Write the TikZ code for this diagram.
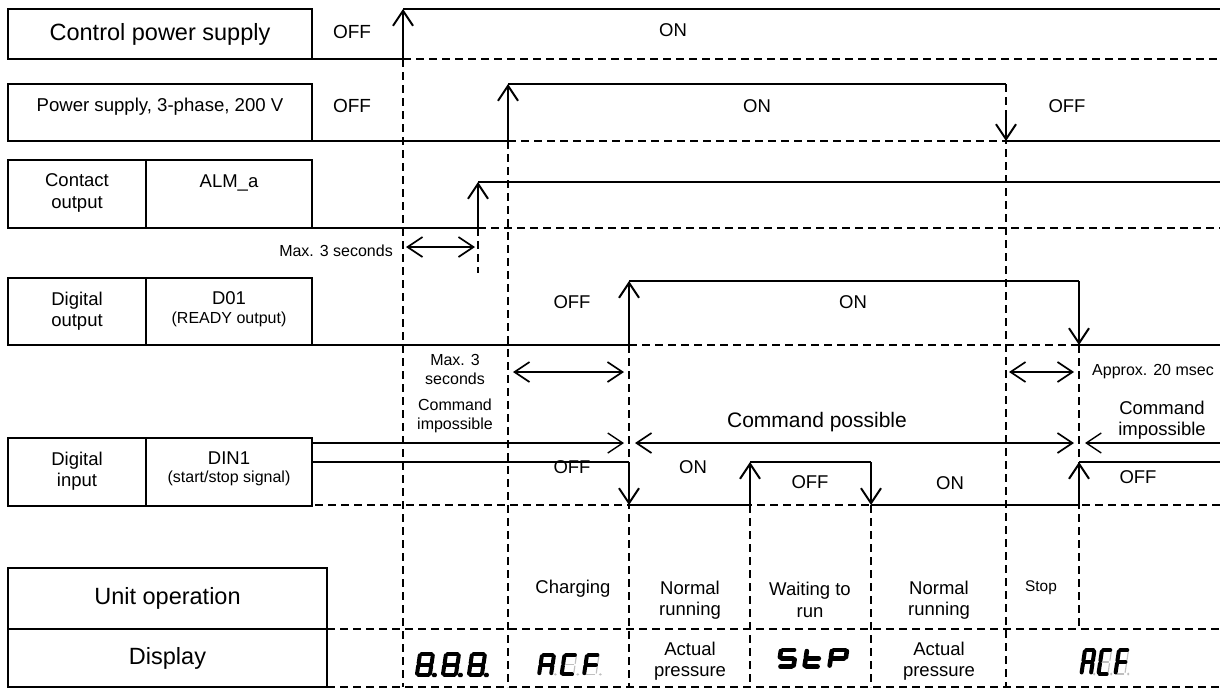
\documentclass[tikz,border=0pt]{standalone}
\usepackage{fontspec}
\setmainfont{Liberation Sans}
\usetikzlibrary{arrows.meta}
\newcommand\fA{\fontsize{23.5}{27}\selectfont}
\newcommand\fB{\fontsize{18.5}{21.5}\selectfont}
\newcommand\fC{\fontsize{16}{19}\selectfont}
\newcommand\fD{\fontsize{21}{24}\selectfont}
\newcommand\fS{\fontsize{15.4}{18}\selectfont}
\newcommand\sevseg[7]{%
  \begin{scope}[shift={(#1,#2)}, xslant=0.15, xscale=#3, yscale=#4]
    \foreach \s in {#6} {\draw[ghostseg, seg\s];}
    \foreach \s in {#5} {\draw[line width=#7pt, line cap=round, line join=round, seg\s];}
  \end{scope}}
\begin{document}
\begin{tikzpicture}[x=1pt,y=-1pt,
  box/.style={draw, line width=2.5pt, inner sep=0pt, align=center},
  sig/.style={line width=2.6pt},
  arr/.style={line width=2pt, -{Straight Barb[length=15pt,width=20pt]}},
  darr/.style={line width=1.7pt, {Straight Barb[length=15pt,width=20pt]}-{Straight Barb[length=15pt,width=20pt]}},
  harr/.style={line width=1.4pt, -{Straight Barb[length=15pt,width=20pt]}},
  dsh/.style={line width=1.7pt, dash pattern=on 8pt off 5pt},
  lbl/.style={inner sep=0pt, align=center, font=\fB},
  ghostseg/.style={line width=1.1pt, draw=black!25, line cap=round},
  sega/.style={insert path={(1.3,0)--(8.7,0)}},
  segb/.style={insert path={(10,1.3)--(10,8.7)}},
  segc/.style={insert path={(10,11.3)--(10,18.7)}},
  segd/.style={insert path={(1.3,20)--(8.7,20)}},
  sege/.style={insert path={(0,11.3)--(0,18.7)}},
  segf/.style={insert path={(0,1.3)--(0,8.7)}},
  segg/.style={insert path={(1.3,10)--(8.7,10)}},
  segp/.style={insert path={(13.5,20) circle[radius=0.5]}}
]
\useasboundingbox (0,0) rectangle (1220,689);
\fill[white] (0,0) rectangle (1220,689);

% ---------- label boxes ----------
\node[box, minimum width=304pt, minimum height=50pt, font=\fA] (cps) at (160,34) {Control power supply};
\node[box, minimum width=304pt, minimum height=57pt] (ps3) at (160,112.5) {};
\node[lbl, font=\fontsize{18.6}{21}\selectfont] (ps3t) at (160,107) {Power supply, 3-phase, 200 V};

\node[box, minimum width=138pt, minimum height=68pt] (co1) at (77,194) {};
\node[box, minimum width=166pt, minimum height=68pt] (co2) at (229,194) {};
\node[lbl] (co1t) at (77,193) {Contact\\output};
\node[lbl] (co2t) at (229,183) {ALM\_a};

\node[box, minimum width=138pt, minimum height=67pt] (do1) at (77,311.5) {};
\node[box, minimum width=166pt, minimum height=67pt] (do2) at (229,311.5) {};
\node[lbl] (do1t) at (77,311) {Digital\\output};
\node[lbl] (do2t) at (229,309) {D01\\[-3pt]{\fC (READY output)}};

\node[box, minimum width=138pt, minimum height=68pt] (di1) at (77,472) {};
\node[box, minimum width=166pt, minimum height=68pt] (di2) at (229,472) {};
\node[lbl] (di1t) at (77,471) {Digital\\input};
\node[lbl] (di2t) at (229,469) {DIN1\\[-3pt]{\fC (start/stop signal)}};

\node[box, minimum width=319pt, minimum height=61pt, font=\fA] (uo) at (167.5,598.5) {Unit operation};
\node[box, minimum width=319pt, minimum height=58pt, font=\fA] (disp) at (167.5,658) {Display};

% ---------- row 1: control power ----------
\draw[sig] (312,59) -- (403,59);
\draw[dsh] (403,59) -- (1220,59);
\draw[dsh] (403,59) -- (403,687);
\draw[arr] (403,59) -- (403,9);
\draw[sig] (403,9) -- (1220,9);
\node[lbl, font=\fontsize{19}{22}\selectfont] (r1off) at (352,32) {OFF};
\node[lbl] (r1on) at (673,30) {ON};

% ---------- row 2: 3-phase ----------
\draw[sig] (312,141) -- (508,141);
\draw[dsh] (508,141) -- (1006,141);
\draw[dsh] (508,141) -- (508,687);
\draw[arr] (508,141) -- (508,84);
\draw[sig] (508,84) -- (1006,84);
\draw[dsh] (1006,84) -- (1006,687);
\draw[arr] (1006,114) -- (1006,141);
\draw[sig] (1006,141) -- (1220,141);
\node[lbl, font=\fontsize{19}{22}\selectfont] (r2off) at (352,106) {OFF};
\node[lbl] (r2on) at (757,106) {ON};
\node[lbl] (r2off2) at (1067,106) {OFF};

% ---------- row 3: ALM_a ----------
\draw[sig] (312,228) -- (478,228);
\draw[dsh] (478,228) -- (1220,228);
\draw[dsh] (478,228) -- (478,273);
\draw[arr] (478,228) -- (478,182);
\draw[sig] (478,182) -- (1220,182);
\draw[darr] (406,247) -- (475,247);
\node[lbl, font=\fC, anchor=east] (max1) at (393,251) {Max. 3 seconds};

% ---------- row 4: D01 ----------
\draw[sig] (312,345) -- (629,345);
\draw[dsh] (629,345) -- (1079,345);
\draw[dsh] (629,345) -- (629,687);
\draw[dsh] (1079,345) -- (1079,629);
\draw[arr] (629,345) -- (629,281);
\draw[sig] (629,281) -- (1079,281);
\draw[arr] (1079,281) -- (1079,345);
\draw[sig] (1079,345) -- (1220,345);
\node[lbl] (r4off) at (572,302) {OFF};
\node[lbl] (r4on) at (853,302) {ON};
\draw[darr] (513,372) -- (624,372);
\draw[darr] (1009,372) -- (1074,372);
\node[lbl, font=\fC] (max2) at (455,369) {Max. 3\\seconds};
\node[lbl, font=\fC] (ci1) at (455,416) {Command\\impossible};
\node[lbl, font=\fC] (apx) at (1153,372) {Approx. 20 msec};
\node[lbl, font=\fD] (cp) at (817,422) {Command possible};
\node[lbl] (ci2) at (1162,420) {Command\\impossible};

% ---------- row 5: DIN1 ----------
\draw[harr] (312,443) -- (624,443);
\draw[darr] (635,443) -- (1074,443);
\draw[harr] (1220,443) -- (1085,443);
\draw[dsh] (315,505) -- (1220,505);
\draw[sig] (312,462) -- (629,462);
\draw[arr] (629,462) -- (629,505);
\draw[sig] (629,505) -- (750,505);
\draw[arr] (750,505) -- (750,462);
\draw[sig] (750,462) -- (871,462);
\draw[arr] (871,462) -- (871,505);
\draw[sig] (871,505) -- (1079,505);
\draw[arr] (1079,505) -- (1079,462);
\draw[sig] (1079,462) -- (1220,462);
\draw[dsh] (750,505) -- (750,687);
\draw[dsh] (871,505) -- (871,687);
\node[lbl] (r5off1) at (572,467) {OFF};
\node[lbl] (r5on1) at (693,467) {ON};
\node[lbl] (r5off2) at (810,482) {OFF};
\node[lbl] (r5on2) at (950,483) {ON};
\node[lbl] (r5off3) at (1138,477) {OFF};

% ---------- unit operation / display ----------
\draw[dsh] (327,629) -- (1220,629);
\draw[dsh] (327,687) -- (1220,687);
\node[lbl] (u1) at (573,589) {Charging};
\node[lbl] (u2) at (690,600) {Normal\\running};
\node[lbl] (u3) at (810,600) {Waiting to\\run};
\node[lbl] (u4) at (939,600) {Normal\\running};
\node[lbl, font=\fS] (u5) at (1041,588) {Stop};
\node[lbl] (d1) at (690,661) {Actual\\pressure};
\node[lbl] (d2) at (939,661) {Actual\\pressure};

% seven-segment read-outs
\sevseg{420}{654}{1.3}{1.05}{a,b,c,d,e,f,g,p}{a}{4}
\sevseg{446}{654}{1.3}{1.05}{a,b,c,d,e,f,g,p}{a}{4}
\sevseg{472}{654}{1.3}{1.05}{a,b,c,d,e,f,g,p}{a}{4}

\sevseg{542}{655}{1.2}{0.97}{a,b,c,e,f,g}{p}{4}
\sevseg{564.5}{655}{1.2}{0.97}{a,d,e,f}{b,c,g,p}{4}
\sevseg{587}{655}{1.2}{0.97}{a,e,f,g}{b,c,d,p}{4}

\sevseg{781}{650}{1.5}{0.83}{a,c,d,f,g}{a}{4.6}
\sevseg{807}{650}{1.5}{0.83}{d,e,f,g}{d}{4.6}
\sevseg{832}{650}{1.5}{0.83}{a,b,e,f,g}{a}{4.6}

\sevseg{1085}{650}{0.95}{1.2}{a,b,c,e,f,g}{p}{4}
\sevseg{1102}{650}{0.95}{1.2}{a,d,e,f}{b,c,g,p}{4}
\sevseg{1119}{650}{0.95}{1.2}{a,e,f,g}{b,c,d,p}{4}
\end{tikzpicture}
\end{document}
